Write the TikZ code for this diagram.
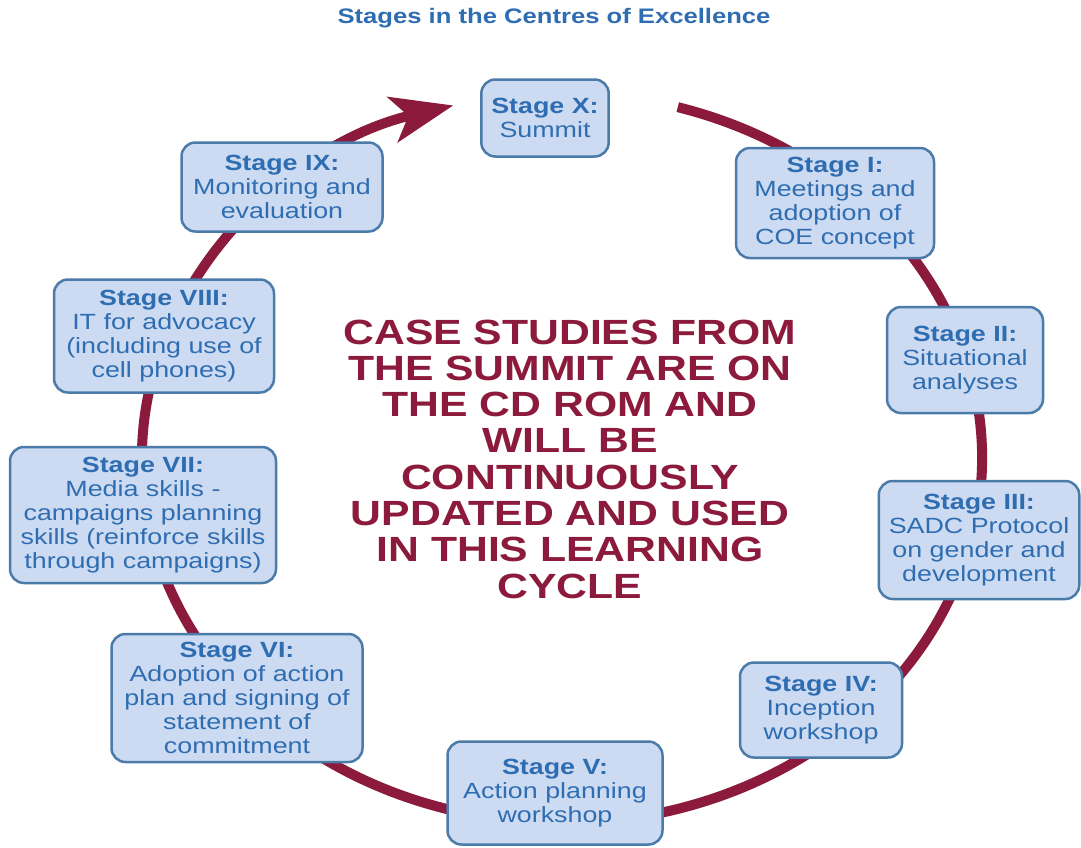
\documentclass[tikz,border=0pt]{standalone}
\usepackage{fontspec}
\setmainfont[FakeStretch=1.22]{Liberation Sans}
\usetikzlibrary{arrows.meta}
\definecolor{stageblue}{HTML}{2F6DB2}
\definecolor{boxfill}{HTML}{CCDBF1}
\definecolor{boxline}{HTML}{4A7BA9}
\definecolor{ringred}{HTML}{8C1A3C}

\begin{document}
\begin{tikzpicture}[x=1pt,y=-1pt,
  stage/.style={draw=boxline,fill=boxfill,line width=2.5pt,rounded corners=14pt,text=stageblue,
    align=center,inner xsep=10pt,inner ysep=0pt,font=\fontsize{22}{24}\selectfont},
  ring/.style={draw=ringred,line width=10pt}]
  \useasboundingbox (0,0) rectangle (1081,847);
  \fill[white] (0,0) rectangle (1081,847);
  \node[text=stageblue,font=\bfseries\fontsize{21}{24}\selectfont] (title) at (554,18) {Stages in the Centres of Excellence};
  \coordinate (hub) at (562,458);
  \draw[ring,-{Stealth[length=62pt,width=46pt,inset=16pt]}] (hub) ++(-74:420 and 365)
    arc[start angle=-74,end angle=255,x radius=420,y radius=365];
  \node[stage,minimum width=126pt,minimum height=77pt] (s10) at (545,118) {\textbf{Stage X:}\\Summit};
  \node[stage,minimum width=198pt,minimum height=110pt] (s1) at (835,203) {\textbf{Stage I:}\\Meetings and\\adoption of\\COE concept};
  \node[stage,minimum width=156pt,minimum height=106pt] (s2) at (965,360) {\textbf{Stage II:}\\Situational\\analyses};
  \node[stage,minimum width=200pt,minimum height=118pt] (s3) at (979,540) {\textbf{Stage III:}\\SADC Protocol\\on gender and\\development};
  \node[stage,minimum width=162pt,minimum height=95pt] (s4) at (821,710) {\textbf{Stage IV:}\\Inception\\workshop};
  \node[stage,minimum width=215pt,minimum height=103pt] (s5) at (555,793) {\textbf{Stage V:}\\Action planning\\workshop};
  \node[stage,minimum width=251pt,minimum height=128pt] (s6) at (237,698) {\textbf{Stage VI:}\\Adoption of action\\plan and signing of\\statement of\\commitment};
  \node[stage,minimum width=266pt,minimum height=136pt] (s7) at (143,515) {\textbf{Stage VII:}\\Media skills -\\campaigns planning\\skills (reinforce skills\\through campaigns)};
  \node[stage,minimum width=220pt,minimum height=113pt] (s8) at (164,336) {\textbf{Stage VIII:}\\IT for advocacy\\(including use of\\cell phones)};
  \node[stage,minimum width=201pt,minimum height=89pt] (s9) at (282,187) {\textbf{Stage IX:}\\Monitoring and\\evaluation};
  \node[text=ringred,align=center,font=\bfseries\fontsize{35}{36.3}\selectfont] (note) at (570,459)
    {CASE STUDIES FROM\\THE SUMMIT ARE ON\\THE CD ROM AND\\WILL BE\\CONTINUOUSLY\\UPDATED AND USED\\IN THIS LEARNING\\CYCLE};
\end{tikzpicture}
\end{document}
